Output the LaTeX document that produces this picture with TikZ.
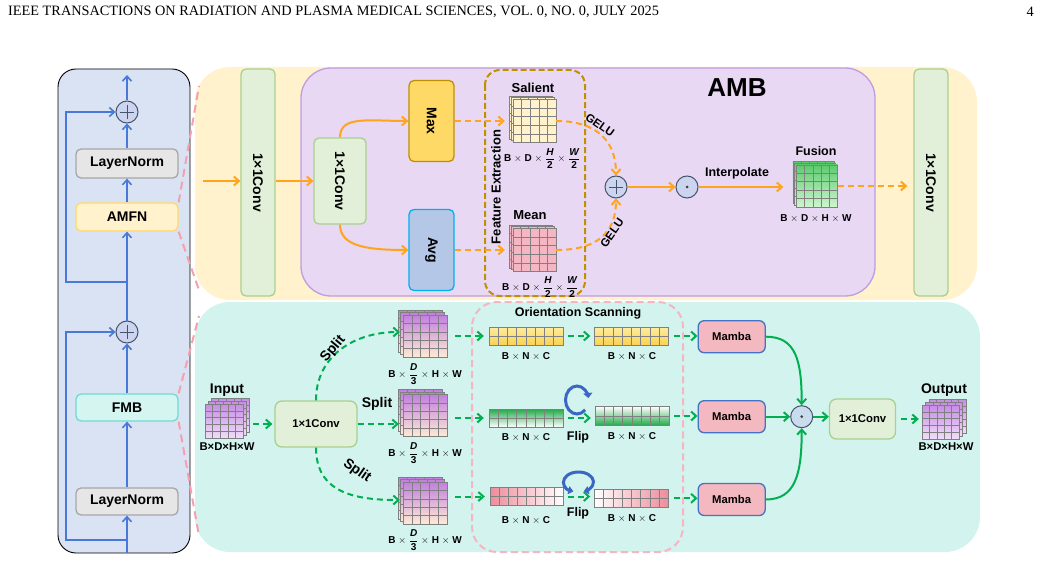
\documentclass[tikz,border=0pt]{standalone}
\usepackage{fontspec}
\setmainfont{Liberation Sans}
\newfontfamily\hdrfont{Liberation Serif}
\usetikzlibrary{arrows.meta,calc}
\definecolor{leftbg}{HTML}{DAE3F3}
\definecolor{ybg}{HTML}{FFF2CC}
\definecolor{cbg}{HTML}{D3F3EE}
\definecolor{ambf}{HTML}{E8D8F3}
\definecolor{ambd}{HTML}{BF9CE0}
\definecolor{convf}{HTML}{E2F0D9}
\definecolor{convd}{HTML}{A9D18E}
\definecolor{maxf}{HTML}{FFD966}
\definecolor{maxd}{HTML}{BF9000}
\definecolor{avgf}{HTML}{B4C7E7}
\definecolor{avgd}{HTML}{00B0F0}
\definecolor{lnf}{HTML}{E7E6E6}
\definecolor{lnd}{HTML}{A6A6A6}
\definecolor{amfnd}{HTML}{FFD966}
\definecolor{fmbf}{HTML}{D5F5F0}
\definecolor{fmbd}{HTML}{6CDCCF}
\definecolor{mambaf}{HTML}{F4B8C1}
\definecolor{mambad}{HTML}{4472C4}
\definecolor{circf}{HTML}{CCD4F0}
\definecolor{circf2}{HTML}{C8DCEE}
\definecolor{circb}{HTML}{44546A}
\definecolor{orn}{HTML}{FFA41C}
\definecolor{grn}{HTML}{00B050}
\definecolor{blu}{HTML}{4A78D8}
\definecolor{iconb}{HTML}{3A66C4}
\definecolor{pnk}{HTML}{F4A0AE}
\definecolor{osd}{HTML}{F7B5C0}
\definecolor{fed}{HTML}{BF9000}
\definecolor{salc}{HTML}{FFF2CC}
\definecolor{meanc}{HTML}{F4B6C2}
\definecolor{fustop}{HTML}{5DCB6E}
\definecolor{fusbot}{HTML}{CFF5CF}
\definecolor{inptop}{HTML}{C78DE6}
\definecolor{inpbot}{HTML}{F0DDF8}
\definecolor{spltop}{HTML}{C27FE0}
\definecolor{splbot}{HTML}{FDEBD3}
\definecolor{bar1t}{HTML}{FFEDA0}
\definecolor{bar1b}{HTML}{F8D250}
\definecolor{bar2g}{HTML}{23A94A}
\definecolor{bar3p}{HTML}{EE8C9C}
\newcommand\fs[1]{\fontsize{#1}{#1}\selectfont}
\newcommand\fr[2]{$\displaystyle\frac{\mbox{\bfseries\itshape #1}}{\mbox{\bfseries #2}}$}
% grid drawing without node
\newcommand\gdraw[7]{%
  \pgfmathsetmacro\gx{#1-#3/2}\pgfmathsetmacro\gy{#2-#4/2}%
  \path[#7] (\gx,\gy) rectangle ++(#3,#4);
  \pgfmathtruncatemacro\gc{#5-1}\pgfmathtruncatemacro\gr{#6-1}%
  \foreach \i in {1,...,\gc}{\draw[gridline] ({\gx+\i*#3/#5},\gy) -- ++(0,#4);}
  \foreach \j in {1,...,\gr}{\draw[gridline] (\gx,{\gy+\j*#4/#6}) -- ++(#3,0);}
  \draw[gridline] (\gx,\gy) rectangle ++(#3,#4);
}
\newcommand\gmap[8]{%
  \gdraw{#2}{#3}{#4}{#5}{#6}{#7}{#8}%
  \node[inner sep=0pt, minimum width=#4, minimum height=#5] (#1) at ({#2},{#3}) {};
}
\newcommand\smap[8]{%
  \gdraw{#2+2*#7}{#3+2*#8}{#4}{#5}{5}{5}{#6}%
  \gdraw{#2+#7}{#3+#8}{#4}{#5}{5}{5}{#6}%
  \gmap{#1}{#2}{#3}{#4}{#5}{5}{5}{#6}%
}
\begin{document}
\begin{tikzpicture}[x=1pt,y=-1pt,
  box/.style={draw, rounded corners=5pt, line width=1.3pt, inner sep=0pt},
  oarr/.style={orn, line width=2pt, -{Straight Barb[length=5pt,width=9pt]}},
  odash/.style={oarr, dash pattern=on 6pt off 4pt},
  garr/.style={grn, line width=2pt, -{Straight Barb[length=5pt,width=9pt]}},
  gdash/.style={garr, dash pattern=on 6pt off 4pt},
  barr/.style={blu, line width=1.6pt, -{Straight Barb[length=5pt,width=9pt]}},
  pdash/.style={pnk, line width=2pt, dash pattern=on 8pt off 5pt},
  gridline/.style={draw=black!50, line width=0.6pt},
  t14/.style={font=\fs{14}\bfseries},
  t13/.style={font=\fs{13}\bfseries},
  t12/.style={font=\fs{12.5}\bfseries},
  t11/.style={font=\fs{11.3}\bfseries},
  t10/.style={font=\fs{10}\bfseries, inner sep=1pt},
  plusc/.style={circle, draw=circb, line width=1pt, fill=circf, minimum size=22pt, inner sep=0pt,
    path picture={\draw[circb, line width=0.7pt] ($(path picture bounding box.center)+(-7,0)$) -- +(14,0)
      ($(path picture bounding box.center)+(0,-7)$) -- +(0,14);}},
  dotc/.style={circle, draw=circb, line width=1pt, fill=circf, minimum size=22pt, inner sep=0pt,
    path picture={\fill[black!75] (path picture bounding box.center) circle (1.5pt);}},
  salf/.style={fill=salc}, meanf/.style={fill=meanc},
  fusf/.style={top color=fustop, bottom color=fusbot},
  inpf/.style={top color=inptop, bottom color=inpbot},
  splf/.style={top color=spltop, bottom color=splbot},
  bar1f/.style={top color=bar1t, bottom color=bar1b},
  bar2lf/.style={top color=bar2g, bottom color=white},
  bar2rf/.style={top color=white, bottom color=bar2g},
  bar3lf/.style={left color=bar3p, right color=white},
  bar3rf/.style={left color=white, right color=bar3p},
]
\useasboundingbox (0,0) rectangle (1041,561);
% header
\node[anchor=west, font=\hdrfont\fs{14.3}, inner sep=0pt] (hdr) at (8,12) {IEEE TRANSACTIONS ON RADIATION AND PLASMA MEDICAL SCIENCES, VOL. 0, NO. 0, JULY 2025};
\node[anchor=east, font=\hdrfont\fs{14.3}, inner sep=0pt] (pg) at (1034,12) {4};
% panels
\path[fill=leftbg, draw=black, line width=0.9pt, rounded corners=18pt] (58,69) rectangle (190,553);
\path[fill=ybg, rounded corners=35pt] (195,67) rectangle (977,300);
\path[fill=cbg, rounded corners=35pt] (195,302) rectangle (980,552);
\path[fill=ambf, draw=ambd, line width=1.3pt, rounded corners=30pt] (301,68) rectangle (875,296);
\path[draw=fed, line width=2pt, dash pattern=on 6pt off 3pt, rounded corners=15pt] (485,70) rectangle (585,296);
\path[draw=osd, line width=2pt, dash pattern=on 7pt off 4pt, rounded corners=25pt] (472,302) rectangle (683,552);
% left column
\node[box, fill=lnf, draw=lnd, minimum width=102, minimum height=29, t14] (ln1) at (127,163.5) {LayerNorm};
\node[box, fill=ybg, draw=amfnd, minimum width=102, minimum height=28, t14] (amfn) at (127,217) {AMFN};
\node[box, fill=fmbf, draw=fmbd, minimum width=102, minimum height=27, t14] (fmb) at (127,407.5) {FMB};
\node[box, fill=lnf, draw=lnd, minimum width=102, minimum height=27, t14] (ln2) at (127,501.5) {LayerNorm};
\node[plusc] (c1) at (127,112) {};
\node[plusc] (c2) at (127,332) {};
\coordinate (bot) at (127,553);
\coordinate (top) at (127,75);
\coordinate (sk1) at (127,540); \coordinate (sk1l) at (66,540);
\coordinate (sk2) at (127,282); \coordinate (sk2l) at (66,282);
\draw[barr] (bot) -- (ln2);
\draw[barr] (ln2) -- (fmb);
\draw[barr] (fmb) -- (c2);
\draw[barr] (c2) -- (amfn);
\draw[barr] (amfn) -- (ln1);
\draw[barr] (ln1) -- (c1);
\draw[barr] (c1) -- (top);
\draw[barr] (sk1) -- (sk1l) |- (c2);
\draw[barr] (sk2) -- (sk2l) |- (c1);
% pink zoom lines
\coordinate (pa1) at (199,86); \coordinate (pa2) at (200,293);
\coordinate (pf1) at (199,316); \coordinate (pf2) at (199,536);
\draw[pdash] (amfn.north east) -- (pa1);
\draw[pdash] (amfn.south east) -- (pa2);
\draw[pdash] (fmb.north east) -- (pf1);
\draw[pdash] (fmb.south east) -- (pf2);
% ---- AMFN panel
\coordinate (ain) at (203,181);
\node[box, fill=convf, draw=convd, minimum width=34, minimum height=227] (cv1) at (258,182.5) {};
\node[rotate=-90, t14] (cv1t) at (cv1) {1×1Conv};
\node[box, fill=convf, draw=convd, minimum width=52, minimum height=86] (cv2) at (340,181) {};
\node[rotate=-90, t14] (cv2t) at (cv2) {1×1Conv};
\node[box, fill=maxf, draw=maxd, minimum width=45, minimum height=81] (mx) at (431.5,121) {};
\node[rotate=-90, t14] (mxt) at (mx) {Max};
\node[box, fill=avgf, draw=avgd, minimum width=45, minimum height=81] (av) at (431.5,250) {};
\node[rotate=-90, t14] (avt) at (av) {Avg};
\node[box, fill=convf, draw=convd, minimum width=34, minimum height=227] (cv3) at (931,182.5) {};
\node[rotate=-90, t14] (cv3t) at (cv3) {1×1Conv};
\draw[oarr] (ain) -- (ain -| cv1.west);
\draw[oarr] (cv1.east |- cv2.west) -- (cv2.west);
\draw[oarr] (cv2.north) .. controls +(0,-22) and +(-40,0) .. (mx.west);
\draw[oarr] (cv2.south) .. controls +(0,22) and +(-40,0) .. (av.west);
\node[rotate=90, t13] (fet) at (496,187) {Feature Extraction};
\smap{sal}{534.5}{121}{43}{43}{salf}{-1.8}{-1.8}
\node[t13] (salt) at (533,88) {Salient};
\node[t10] (sald) at (542,158.5) {B $\times$ D $\times$ \fr{H}{2} $\times$ \fr{W}{2}};
\smap{mean}{534.5}{250}{43}{43}{meanf}{-1.8}{-1.8}
\node[t13] (meant) at (530,215) {Mean};
\node[t10] (meand) at (540,287) {B $\times$ D $\times$ \fr{H}{2} $\times$ \fr{W}{2}};
\draw[odash, shorten >=8pt] (mx.east) -- (sal.west |- mx.east);
\draw[odash, shorten >=8pt] (av.east) -- (mean.west |- av.east);
\node[plusc] (pl) at (616,187) {};
\draw[odash] (sal.east) .. controls +(40,0) and +(0,-35) .. (pl.north);
\draw[odash] (mean.east) .. controls +(40,0) and +(0,35) .. (pl.south);
\node[font=\fs{11.5}\bfseries, rotate=-35] (g1) at (600,125) {GELU};
\node[font=\fs{11.5}\bfseries, rotate=55] (g2) at (612,233) {GELU};
\node[dotc] (dt) at (687,187) {};
\draw[oarr] (pl) -- (dt);
\smap{fus}{817}{186}{41}{42}{fusf}{-1.8}{-1.8}
\draw[oarr, shorten >=13pt] (dt) -- (fus.west |- dt.east);
\node[t12] (interp) at (737,173) {Interpolate};
\node[t12] (fust) at (816,151) {Fusion};
\node[t10] (fusd) at (816,218) {B $\times$ D $\times$ H $\times$ W};
\draw[odash, shorten >=6pt] (fus.east) -- (cv3.west |- fus.east);
\node[font=\fs{26}\bfseries] (amb) at (737,88) {AMB};
% ---- FMB panel
\smap{inp}{224}{421}{38}{34}{inpf}{3}{-3}
\node[t14] (inpt) at (227,390) {Input};
\node[t11] (inpd) at (227,447) {B×D×H×W};
\node[box, fill=convf, draw=convd, minimum width=82, minimum height=46, rounded corners=7pt, t11] (cv4) at (316,424) {1×1Conv};
\draw[gdash, shorten <=10pt, shorten >=2pt] (inp.east |- cv4.west) -- (cv4.west);
\smap{sp1}{425}{336}{44}{42}{splf}{-2.5}{-2.5}
\smap{sp2}{425}{415.5}{44}{42}{splf}{-2.5}{-2.5}
\smap{sp3}{425}{503}{44}{42}{splf}{-2.5}{-2.5}
\draw[gdash] (cv4.north) .. controls +(0,-45) and +(-45,0) .. ([xshift=-3pt,yshift=4pt]sp1.west);
\draw[gdash, shorten >=4pt] (cv4.east) -- (sp2.west |- cv4.east);
\draw[gdash] (cv4.south) .. controls +(0,45) and +(-45,0) .. ([xshift=-3pt,yshift=3pt]sp3.west);
\node[t14, rotate=50] (spl1) at (333,349) {Split};
\node[t14] (spl2) at (377,404) {Split};
\node[t14, rotate=-35] (spl3) at (357,471) {Split};
\node[t10] (sp1d) at (425,374) {B $\times$ \fr{D}{3} $\times$ H $\times$ W};
\node[t10] (sp2d) at (425,453) {B $\times$ \fr{D}{3} $\times$ H $\times$ W};
\node[t10] (sp3d) at (425,540) {B $\times$ \fr{D}{3} $\times$ H $\times$ W};
\node[t12] (ost) at (578,313) {Orientation Scanning};
\gmap{b1l}{526}{336}{74}{18}{8}{2}{bar1f}
\gmap{b1r}{631.5}{336}{74}{18}{8}{2}{bar1f}
\gmap{b2l}{526}{418}{74}{18}{8}{2}{bar2lf}
\gmap{b2r}{632}{416}{74}{19}{8}{2}{bar2rf}
\gmap{b3l}{526.5}{496.5}{73}{18}{8}{2}{bar3lf}
\gmap{b3r}{631.5}{498.3}{74}{18}{8}{2}{bar3rf}
\node[t10] (b1ld) at (526,356) {B $\times$ N $\times$ C};
\node[t10] (b1rd) at (632,356) {B $\times$ N $\times$ C};
\node[t10] (b2ld) at (526,437) {B $\times$ N $\times$ C};
\node[t10] (b2rd) at (632,436) {B $\times$ N $\times$ C};
\node[t10] (b3ld) at (526,520) {B $\times$ N $\times$ C};
\node[t10] (b3rd) at (632,518) {B $\times$ N $\times$ C};
\node[t12] (flip1) at (578,437) {Flip};
\node[t12] (flip2) at (578,513) {Flip};
\coordinate (fl1) at (577,400);
\coordinate (fl2) at (578.5,482);
\draw[iconb, line width=3pt, -{Triangle[length=5pt,width=9pt]}] ($(fl1)+(45:11.5 and 14)$) arc[start angle=45, end angle=352, x radius=11.5, y radius=14];
\draw[iconb, line width=3pt, {Triangle[length=5pt,width=8pt]}-{Triangle[length=5pt,width=8pt]}] ($(fl2)+(110:15 and 10)$) arc[start angle=110, end angle=430, x radius=15, y radius=10];
\draw[gdash, shorten <=8pt, shorten >=5pt] (sp1.east |- b1l.west) -- (b1l.west);
\draw[gdash, shorten <=8pt, shorten >=5pt] (sp2.east |- b2l.west) -- (b2l.west);
\draw[gdash, shorten <=8pt, shorten >=5pt] (sp3.east |- b3l.west) -- (b3l.west);
\draw[gdash, shorten <=5pt, shorten >=4pt] (b1l.east) -- (b1r.west);
\draw[gdash, shorten <=5pt, shorten >=4pt] (b2l.east) -- (b2r.west |- b2l.east);
\draw[gdash, shorten <=5pt, shorten >=4pt] (b3l.east) -- (b3r.west |- b3l.east);
\node[box, fill=mambaf, draw=mambad, minimum width=67, minimum height=32, rounded corners=6pt, t11] (m1) at (731.7,336.7) {Mamba};
\node[box, fill=mambaf, draw=mambad, minimum width=67, minimum height=32, rounded corners=6pt, t11] (m2) at (731.7,416.7) {Mamba};
\node[box, fill=mambaf, draw=mambad, minimum width=67, minimum height=32, rounded corners=6pt, t11] (m3) at (731.7,499.5) {Mamba};
\draw[gdash, shorten <=5pt] (b1r.east) -- (m1.west |- b1r.east);
\draw[gdash, shorten <=5pt] (b2r.east) -- (m2.west |- b2r.east);
\draw[gdash, shorten <=5pt] (b3r.east) -- (m3.west |- b3r.east);
\node[dotc, fill=circf2] (d2) at (801.7,416.7) {};
\draw[garr] (m1.east) .. controls +(30,0) and +(0,-45) .. (d2.north);
\draw[garr] (m2.east) -- (d2.west);
\draw[garr] (m3.east) .. controls +(30,0) and +(0,45) .. (d2.south);
\node[box, fill=convf, draw=convd, minimum width=66, minimum height=40, rounded corners=7pt, t11] (cv5) at (862.5,419) {1×1Conv};
\draw[garr] (d2.east) -- (cv5.west |- d2.east);
\smap{out}{940.5}{422}{37}{34}{inpf}{3.5}{-3}
\draw[gdash, shorten <=5pt, shorten >=3pt] (cv5.east) -- (out.west |- cv5.east);
\node[t14] (outt) at (944,390) {Output};
\node[t11] (outd) at (946,447) {B×D×H×W};
\end{tikzpicture}
\end{document}
